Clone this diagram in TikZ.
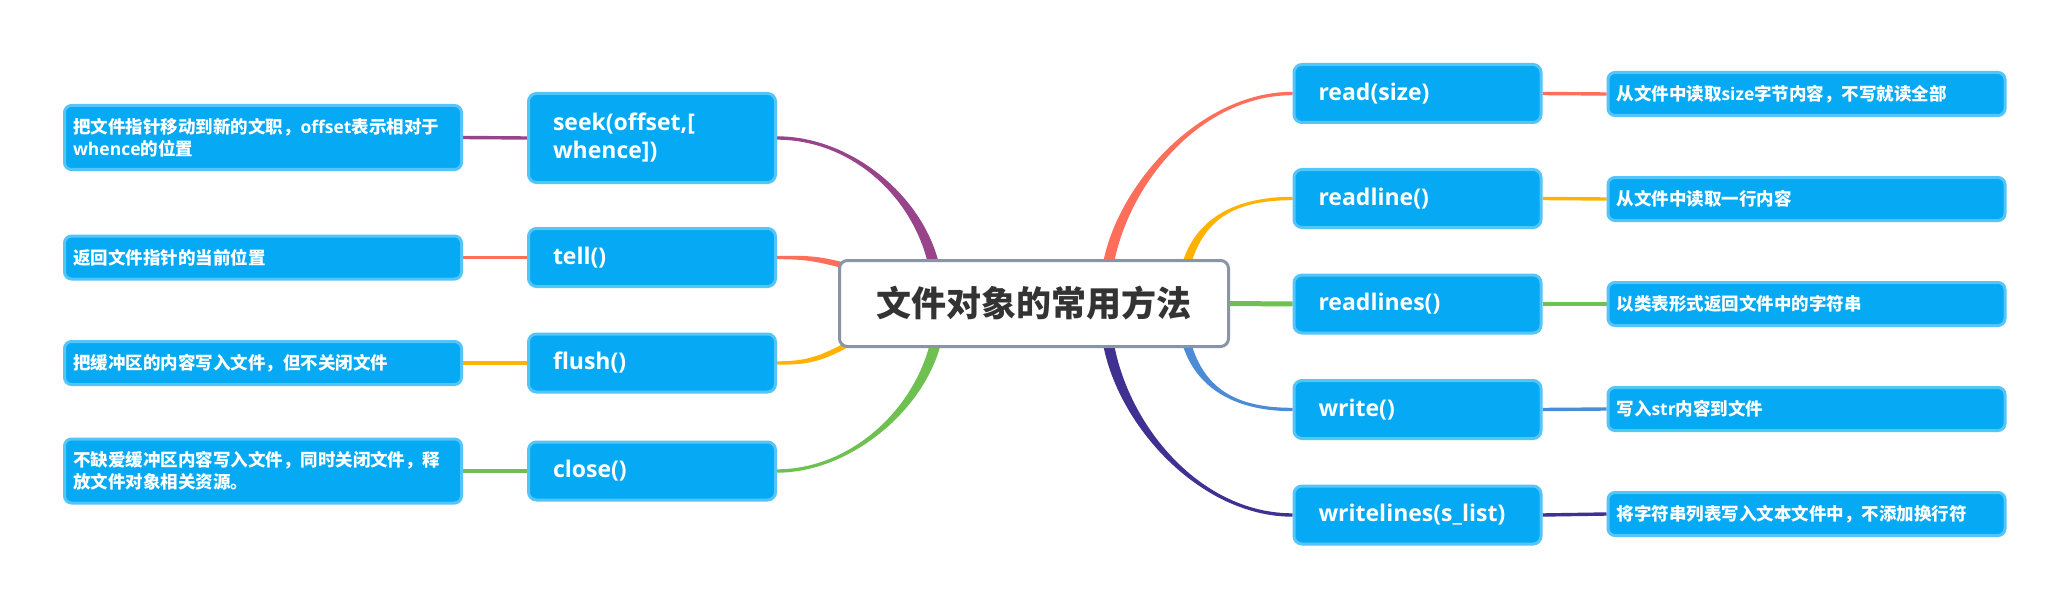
\documentclass[tikz,border=0pt]{standalone}
\usepackage{fontspec}
\setmainfont{Noto Sans CJK SC}
\newfontfamily\latfont{Open Sans}
\newcommand\LT[1]{{\latfont\bfseries #1}}
\usetikzlibrary{calc}
\pgfdeclarelayer{bg}
\pgfsetlayers{bg,main}
\definecolor{boxfill}{HTML}{05A9F4}
\definecolor{boxline}{HTML}{55C4F6}
\definecolor{cline}{HTML}{8A94A6}
\definecolor{ctext}{HTML}{333333}
\definecolor{cpurple}{HTML}{98448A}
\definecolor{cred}{HTML}{FF6E5A}
\definecolor{cyellow}{HTML}{FFB300}
\definecolor{cgreen}{HTML}{6EC150}
\definecolor{cblue}{HTML}{4C8CD7}
\definecolor{cindigo}{HTML}{403091}
% #1 colour, #2 start, #3 c1, #4 c2, #5 end, #6/#7 start shifts, #8/#9 end shifts
\newcommand\taper[9]{\fill[#1] ([#6]#2) .. controls ([#6]#3) and ([#8]#4) .. ([#8]#5) -- ([#9]#5) .. controls ([#9]#4) and ([#7]#3) .. ([#7]#2) -- cycle;}
\tikzset{
  mbox/.style={rectangle, rounded corners=8pt, fill=boxfill, draw=boxline, line width=3pt,
    text=white, text width=198pt, inner xsep=24.5pt, inner ysep=4pt, minimum height=58pt,
    align=left, font=\latfont\bfseries\fontsize{23}{28}\selectfont},
  dbox/.style={rectangle, rounded corners=7pt, fill=boxfill, draw=boxline, line width=3pt,
    text=white, text width=380pt, inner xsep=8.5pt, inner ysep=4pt, minimum height=43pt,
    align=left, font=\bfseries\fontsize{17.5}{22}\selectfont},
  cbox/.style={rectangle, rounded corners=8pt, fill=white, draw=cline, line width=3pt,
    text=ctext, minimum width=389pt, minimum height=86pt, align=center,
    font=\bfseries\fontsize{35}{40}\selectfont},
  link/.style={line width=3.4pt}
}
\begin{document}
\begin{tikzpicture}[x=1pt,y=-1pt]
\begin{pgfonlayer}{bg}
\fill[white] (0,0) rectangle (2067,607);
\end{pgfonlayer}
\useasboundingbox (0,0) rectangle (2067,607);
\node[cbox] (c) at (1034,303.5) {文件对象的常用方法};
\node[mbox, minimum height=89pt] (seek) at (652,138) {seek(offset,[\\whence])};
\node[mbox] (tell) at (652,257.5) {tell()};
\node[mbox] (flush) at (652,363) {flush()};
\node[mbox] (close) at (652,471) {close()};
\node[mbox] (read) at (1417.5,93.5) {read(size)};
\node[mbox] (readline) at (1417.5,198.5) {readline()};
\node[mbox] (readlines) at (1417.5,304) {readlines()};
\node[mbox] (write) at (1417.5,409.5) {write()};
\node[mbox] (writelines) at (1417.5,515) {writelines(s\_list)};
\node[dbox, minimum height=64pt] (dseek) at (263,137.5) {把文件指针移动到新的文职，\LT{offset}表示相对于\\\LT{whence}的位置};
\node[dbox] (dtell) at (263,257.5) {返回文件指针的当前位置};
\node[dbox] (dflush) at (263,363) {把缓冲区的内容写入文件，但不关闭文件};
\node[dbox, minimum height=64pt] (dclose) at (263,471) {不缺爱缓冲区内容写入文件，同时关闭文件，释\\放文件对象相关资源。};
\node[dbox] (dread) at (1806.5,94) {从文件中读取\LT{size}字节内容，不写就读全部};
\node[dbox] (dreadline) at (1806.5,199) {从文件中读取一行内容};
\node[dbox] (dreadlines) at (1806.5,304) {以类表形式返回文件中的字符串};
\node[dbox] (dwrite) at (1806.5,409) {写入\LT{str}内容到文件};
\node[dbox] (dwritelines) at (1806.5,514) {将字符串列表写入文本文件中，不添加换行符};
% start points on the central topic
\coordinate (sseek) at ($(c.center)+(-100,-37.5)$);
\coordinate (stell) at ($(c.center)+(-188,-37.5)$);
\coordinate (sflush) at ($(c.center)+(-184,39.5)$);
\coordinate (sclose) at ($(c.center)+(-98,37.5)$);
\coordinate (sread) at ($(c.center)+(74,-37.5)$);
\coordinate (sreadline) at ($(c.center)+(152,-37.5)$);
\coordinate (swrite) at ($(c.center)+(152,37.5)$);
\coordinate (swritelines) at ($(c.center)+(74,37.5)$);
\begin{pgfonlayer}{bg}
\taper{cpurple}{sseek}{918,195}{850,138}{seek.east}{xshift=-5.5pt}{xshift=5.5pt}{yshift=-1.7pt}{yshift=1.7pt}
\taper{cred}{stell}{815,258}{805,257.5}{tell.east}{yshift=-3pt}{yshift=3pt}{yshift=-1.7pt}{yshift=1.7pt}
\taper{cyellow}{sflush}{820,360}{805,363}{flush.east}{yshift=-3pt}{yshift=3pt}{yshift=-1.7pt}{yshift=1.7pt}
\taper{cgreen}{sclose}{920,410}{850,471}{close.east}{xshift=5.5pt}{xshift=-5.5pt}{yshift=-1.7pt}{yshift=1.7pt}
\taper{cred}{sread}{1122,185}{1200,93.5}{read.west}{xshift=-5.5pt}{xshift=5.5pt}{yshift=1.7pt}{yshift=-1.7pt}
\taper{cyellow}{sreadline}{1200,215}{1240,198.5}{readline.west}{xshift=-4.5pt}{xshift=4.5pt}{yshift=1.7pt}{yshift=-1.7pt}
\taper{cblue}{swrite}{1200,392}{1240,409.5}{write.west}{xshift=4.5pt}{xshift=-4.5pt}{yshift=1.7pt}{yshift=-1.7pt}
\taper{cindigo}{swritelines}{1122,425}{1200,515}{writelines.west}{xshift=5.5pt}{xshift=-5.5pt}{yshift=1.7pt}{yshift=-1.7pt}
\draw[link, cgreen, line width=5pt] (c.east) -- (readlines.west);
\draw[link, cpurple] (dseek.east) -- (seek.west);
\draw[link, cred] (dtell.east) -- (tell.west);
\draw[link, cyellow] (dflush.east) -- (flush.west);
\draw[link, cgreen] (dclose.east) -- (close.west);
\draw[link, cred] (read.east) -- (dread.west);
\draw[link, cyellow] (readline.east) -- (dreadline.west);
\draw[link, cgreen] (readlines.east) -- (dreadlines.west);
\draw[link, cblue] (write.east) -- (dwrite.west);
\draw[link, cindigo] (writelines.east) -- (dwritelines.west);
\end{pgfonlayer}
\end{tikzpicture}
\end{document}
